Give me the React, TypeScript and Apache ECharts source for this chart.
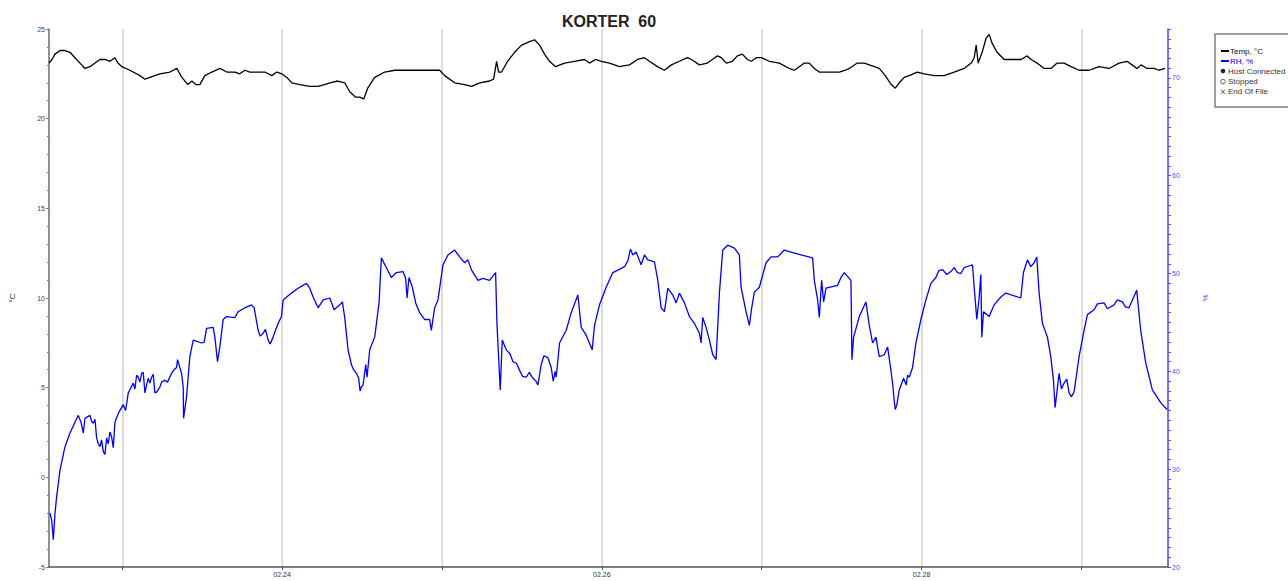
import React, { useEffect, useRef } from "react";
import * as echarts from "echarts";

const START = new Date(2024, 1, 22, 13, 0, 0).getTime();
const HOUR = 3600000;
const DAY = 24 * HOUR;
const SPAN_HOURS = 168;

const chartTitle = "KORTER  60";
const tempName = "Temp, °C";
const rhName = "RH, %";
const extraLegend = ["Host Connected", "Stopped", "End Of File"];

// [hours since start, °C]
const tempReadings: [number, number][] = [
  [0, 23.1], [0.45, 23.3], [0.9, 23.6], [1.65, 23.8], [2.4, 23.8], [3.15, 23.7], [3.9, 23.4], [4.65, 23.1],
  [5.4, 22.8], [6.15, 22.9], [6.9, 23.1], [7.65, 23.3], [8.4, 23.3], [9.15, 23.2], [9.9, 23.4], [10.35, 23.1],
  [10.95, 22.9], [12.15, 22.7], [13.65, 22.4], [14.4, 22.2], [15.15, 22.3], [16.65, 22.5], [18.15, 22.6],
  [19.2, 22.8], [19.95, 22.3], [20.85, 21.9], [21.45, 22.1], [22.05, 21.9], [22.65, 21.9], [23.4, 22.4],
  [24.45, 22.6], [25.65, 22.8], [26.7, 22.6], [27.9, 22.6], [28.65, 22.5], [29.4, 22.7], [30.15, 22.6],
  [31.35, 22.6], [32.4, 22.6], [33.45, 22.4], [34.2, 22.6], [34.95, 22.5], [35.7, 22.3], [36.45, 22.0],
  [37.65, 21.9], [39.15, 21.8], [40.35, 21.8], [41.4, 21.9], [42.15, 22.0], [43.35, 22.1], [44.4, 22.0],
  [45.15, 21.5], [46.05, 21.2], [46.65, 21.2], [47.25, 21.1], [47.85, 21.7], [48.9, 22.3], [50.4, 22.6],
  [51.9, 22.7], [54.15, 22.7], [56.4, 22.7], [57.9, 22.7], [58.65, 22.7], [59.4, 22.4], [60.9, 22.0],
  [62.4, 21.9], [63.45, 21.8], [64.65, 22.0], [66.15, 22.1], [66.75, 22.2], [67.2, 23.2], [67.5, 22.6],
  [67.95, 22.6], [68.85, 23.2], [69.9, 23.7], [70.95, 24.1], [72.15, 24.3], [72.9, 24.4], [73.65, 24.1],
  [74.4, 23.6], [75.15, 23.2], [76.05, 22.9], [77.4, 23.1], [78.9, 23.2], [80.4, 23.3], [81.15, 23.1],
  [82.05, 23.3], [82.95, 23.2], [84.15, 23.1], [85.65, 22.9], [87.15, 23.0], [88.35, 23.3], [89.4, 23.4],
  [90.15, 23.2], [91.35, 22.9], [92.4, 22.7], [93.45, 23.0], [94.65, 23.2], [95.85, 23.4], [96.45, 23.3],
  [97.65, 23.0], [98.85, 23.1], [99.6, 23.3], [100.35, 23.5], [100.95, 23.4], [101.7, 23.1], [102.6, 23.2],
  [103.35, 23.5], [104.1, 23.6], [104.85, 23.3], [105.45, 23.2], [106.2, 23.4], [106.95, 23.4], [108.15, 23.2],
  [109.65, 23.1], [111.15, 22.8], [111.9, 22.7], [112.65, 22.9], [113.4, 23.1], [114.15, 23.1], [114.9, 22.8],
  [115.65, 22.6], [117.15, 22.6], [118.65, 22.6], [119.55, 22.7], [120.15, 22.8], [121.35, 23.1], [122.4, 23.1],
  [123.9, 22.9], [124.65, 22.8], [125.55, 22.4], [126.45, 21.9], [127.05, 21.7], [127.65, 22.0], [128.4, 22.3],
  [129.15, 22.4], [130.35, 22.6], [131.4, 22.5], [132.9, 22.4], [134.4, 22.4], [135.9, 22.6], [137.4, 22.8],
  [138.45, 23.1], [138.9, 23.4], [139.2, 24.1], [139.5, 23.1], [140.1, 23.7], [140.7, 24.5], [141.15, 24.7],
  [141.6, 24.2], [142.35, 23.7], [143.4, 23.3], [144.9, 23.3], [145.95, 23.3], [146.85, 23.5], [147.45, 23.3],
  [148.35, 23.1], [149.4, 22.8], [150.45, 22.8], [151.35, 23.1], [152.4, 23.1], [153.45, 22.9], [154.65, 22.7],
  [156.15, 22.7], [157.65, 22.9], [159.15, 22.8], [160.65, 23.1], [161.85, 23.2], [162.6, 23.0], [163.35, 22.8],
  [163.95, 23.0], [164.85, 22.8], [165.9, 22.8], [166.65, 22.7], [167.55, 22.8],
];

// [hours since start, %RH]
const rhReadings: [number, number][] = [
  [0.15, 25.5], [0.4, 24.8], [0.65, 22.8], [0.9, 25.5], [1.15, 27.2], [1.65, 29.9], [2.4, 32.3], [3.15, 33.7],
  [3.9, 34.8], [4.4, 35.5], [4.8, 34.8], [5.15, 33.7], [5.4, 35.2], [6.15, 35.5], [6.4, 34.9], [6.65, 34.7],
  [6.9, 35.1], [7.15, 33.2], [7.4, 32.6], [7.65, 32.3], [7.9, 33.0], [8.15, 31.8], [8.4, 31.5], [8.65, 33.2],
  [8.9, 32.6], [9.15, 33.8], [9.4, 33.3], [9.65, 32.2], [9.9, 34.8], [10.4, 35.7], [11.15, 36.6], [11.5, 36.0],
  [11.9, 37.8], [12.2, 38.2], [12.65, 38.8], [12.9, 38.2], [13.15, 39.6], [13.4, 39.4], [13.65, 38.9],
  [13.9, 39.8], [14.15, 39.9], [14.4, 37.8], [14.65, 38.6], [14.9, 39.3], [15.15, 38.8], [15.4, 39.4],
  [15.65, 39.7], [15.9, 37.8], [16.2, 37.9], [16.65, 38.4], [16.9, 38.9], [17.4, 39.1], [17.8, 38.9],
  [18.4, 39.8], [18.8, 40.2], [19.15, 40.4], [19.3, 41.2], [19.9, 39.8], [20.15, 38.4], [20.2, 35.2],
  [20.65, 37.4], [21.15, 41.5], [21.65, 43.2], [22.9, 42.9], [23.3, 43.0], [23.65, 44.4], [24.65, 44.5],
  [24.9, 43.5], [25.3, 41.0], [25.65, 42.5], [26.15, 45.3], [26.65, 45.6], [27.9, 45.5], [28.4, 46.1],
  [29.4, 46.5], [30.4, 46.8], [30.8, 46.5], [31.4, 44.2], [31.7, 43.6], [32.15, 43.9], [32.5, 44.3],
  [32.9, 43.2], [33.2, 42.8], [33.65, 43.5], [34.0, 44.2], [34.4, 44.9], [34.9, 45.6], [35.15, 47.3],
  [36.4, 48.0], [37.4, 48.5], [38.65, 49.0], [39.15, 48.5], [39.65, 47.6], [40.4, 46.5], [41.15, 47.3],
  [42.15, 47.5], [42.8, 46.3], [43.65, 46.8], [44.05, 47.1], [44.4, 45.5], [44.9, 42.2], [45.4, 40.7],
  [45.7, 40.2], [46.15, 39.8], [46.5, 39.3], [46.7, 38.0], [46.9, 38.4], [47.15, 38.6], [47.55, 40.7],
  [47.75, 39.4], [48.15, 42.2], [48.9, 43.5], [49.55, 47.0], [49.9, 51.6], [50.65, 50.6], [51.4, 49.6],
  [52.15, 50.1], [53.15, 50.2], [53.55, 49.5], [53.75, 47.5], [54.05, 49.6], [54.55, 48.6], [55.05, 47.0],
  [55.65, 46.0], [56.4, 45.3], [57.15, 45.3], [57.4, 44.2], [57.9, 46.5], [58.4, 47.3], [59.15, 50.9],
  [59.9, 51.9], [60.9, 52.4], [61.65, 51.7], [62.4, 51.1], [62.9, 51.4], [63.4, 50.4], [64.4, 49.3],
  [65.15, 49.5], [66.15, 49.3], [67.05, 50.1], [67.25, 44.9], [67.5, 41.5], [67.75, 38.1], [68.05, 43.2],
  [68.65, 42.2], [69.2, 41.8], [69.65, 41.0], [70.2, 40.8], [70.65, 40.1], [71.1, 39.5], [71.65, 39.4],
  [72.1, 39.9], [72.65, 39.3], [73.1, 39.0], [73.4, 38.6], [73.9, 40.7], [74.3, 41.6], [74.9, 41.4],
  [75.4, 40.4], [75.7, 39.0], [76.0, 40.0], [76.15, 39.4], [76.65, 42.9], [77.65, 44.2], [78.4, 46.0],
  [79.4, 47.8], [79.9, 44.5], [80.65, 43.7], [81.55, 42.2], [81.9, 44.7], [82.65, 46.8], [83.65, 48.6],
  [84.65, 50.1], [85.55, 50.4], [86.4, 50.7], [86.9, 51.3], [87.3, 52.5], [87.65, 51.9], [88.15, 52.2],
  [88.9, 50.9], [89.4, 51.9], [89.9, 51.4], [90.9, 51.2], [91.4, 49.3], [91.9, 46.5], [92.4, 46.1],
  [92.9, 48.5], [93.65, 47.8], [94.15, 47.0], [94.65, 48.0], [95.4, 47.0], [96.15, 45.6], [96.9, 44.9],
  [97.65, 43.9], [97.9, 42.9], [98.15, 45.5], [98.65, 44.5], [99.15, 43.2], [99.65, 41.7], [100.15, 41.2],
  [100.65, 48.0], [101.15, 52.4], [101.9, 52.9], [102.9, 52.6], [103.65, 51.9], [103.9, 48.6], [104.65, 46.1],
  [105.15, 44.7], [105.5, 46.5], [105.9, 48.1], [106.65, 48.6], [107.65, 51.1], [108.4, 51.7], [109.4, 51.7],
  [110.4, 52.4], [111.4, 52.2], [112.9, 51.9], [114.65, 51.6], [114.9, 49.3], [115.4, 47.3], [115.65, 45.5],
  [116.0, 49.3], [116.3, 47.1], [116.65, 48.5], [118.4, 48.8], [118.9, 49.6], [119.4, 50.1], [120.4, 49.3],
  [120.55, 41.2], [120.8, 43.5], [121.65, 45.6], [122.65, 47.1], [123.15, 44.7], [123.65, 42.9], [124.15, 43.5],
  [124.65, 41.5], [125.4, 41.7], [125.9, 42.5], [126.4, 40.1], [126.7, 38.5], [126.85, 37.3], [127.05, 36.1],
  [127.3, 36.6], [127.65, 38.1], [128.3, 39.3], [128.7, 38.6], [128.9, 39.6], [129.15, 39.4], [129.65, 40.4],
  [130.15, 42.9], [130.9, 45.3], [131.65, 47.3], [132.4, 49.0], [133.15, 49.6], [133.6, 50.3], [134.15, 50.4],
  [134.8, 49.9], [135.4, 50.2], [135.9, 50.6], [136.4, 50.1], [136.9, 50.0], [137.4, 50.6], [138.65, 50.9],
  [138.9, 48.6], [139.3, 45.3], [139.65, 47.6], [139.9, 49.9], [140.05, 43.5], [140.3, 46.1], [141.15, 45.6],
  [141.9, 46.8], [142.9, 47.6], [143.65, 48.0], [145.9, 47.5], [146.3, 50.1], [146.9, 51.4], [147.4, 50.7],
  [147.9, 51.1], [148.3, 51.7], [148.65, 48.0], [149.15, 44.9], [149.9, 43.5], [150.4, 41.5], [150.8, 39.1],
  [151.05, 36.3], [151.65, 39.8], [152.0, 38.2], [152.4, 38.8], [152.8, 39.2], [153.15, 37.8], [153.5, 37.4],
  [153.9, 37.9], [154.65, 41.5], [155.4, 44.2], [155.9, 45.8], [156.9, 46.3], [157.4, 46.9], [158.4, 47.0],
  [158.9, 46.4], [159.9, 46.8], [160.4, 47.3], [161.15, 47.1], [161.6, 46.6], [162.15, 46.5], [163.3, 48.3],
  [163.9, 44.2], [164.65, 40.9], [165.65, 38.1], [166.9, 36.8], [167.85, 36.1],
];

const FONT = "Liberation Sans, Arial, sans-serif";
const BLUE = "#0000ff";
const AXIS_BLUE = "#5050ff";

const toSeries = (rows: [number, number][]) => rows.map(([h, v]) => [START + h * HOUR, v]);

const pad2 = (n: number) => (n < 10 ? "0" + n : "" + n);

export default function App() {
  const ref = useRef<HTMLDivElement>(null);

  useEffect(() => {
    if (!ref.current) return;
    const chart = echarts.init(ref.current, null, { renderer: "svg" });
    const legendFont = "8px " + FONT;
    const option: any = {
      animation: false,
      backgroundColor: "#ffffff",
      grid: { left: 49, right: 120, top: 29, bottom: 14, containLabel: false },
      graphic: [
        {
          type: "text",
          x: 609,
          y: 21,
          style: {
            text: chartTitle,
            font: "bold 16px " + FONT,
            fill: "#222",
            align: "center",
            verticalAlign: "middle",
          },
        },
        {
          type: "group",
          children: [
            {
              type: "rect",
              shape: { x: 1215, y: 34, width: 100, height: 73 },
              style: { fill: "#fff", stroke: "#808080", lineWidth: 1.5 },
            },
            { type: "line", shape: { x1: 1221, y1: 51, x2: 1229, y2: 51 }, style: { stroke: "#000", lineWidth: 2 } },
            {
              type: "text",
              x: 1230,
              y: 51,
              style: { text: tempName, font: legendFont, fill: "#111", verticalAlign: "middle" },
            },
            { type: "line", shape: { x1: 1221, y1: 61, x2: 1229, y2: 61 }, style: { stroke: BLUE, lineWidth: 2 } },
            {
              type: "text",
              x: 1230,
              y: 61,
              style: { text: rhName, font: legendFont, fill: BLUE, verticalAlign: "middle" },
            },
            { type: "circle", shape: { cx: 1223, cy: 71, r: 2.3 }, style: { fill: "#222" } },
            {
              type: "text",
              x: 1228,
              y: 71,
              style: { text: extraLegend[0], font: legendFont, fill: "#333", verticalAlign: "middle" },
            },
            {
              type: "circle",
              shape: { cx: 1223, cy: 81.5, r: 2.3 },
              style: { fill: "none", stroke: "#333", lineWidth: 0.8 },
            },
            {
              type: "text",
              x: 1228,
              y: 81.5,
              style: { text: extraLegend[1], font: legendFont, fill: "#333", verticalAlign: "middle" },
            },
            { type: "line", shape: { x1: 1221, y1: 89.7, x2: 1225, y2: 93.7 }, style: { stroke: "#333", lineWidth: 0.9 } },
            { type: "line", shape: { x1: 1221, y1: 93.7, x2: 1225, y2: 89.7 }, style: { stroke: "#333", lineWidth: 0.9 } },
            {
              type: "text",
              x: 1228,
              y: 91.7,
              style: { text: extraLegend[2], font: legendFont, fill: "#333", verticalAlign: "middle" },
            },
          ],
        },
      ],
      xAxis: {
        type: "time",
        min: START,
        max: START + SPAN_HOURS * HOUR,
        minInterval: DAY,
        maxInterval: DAY,
        axisLine: { show: true, onZero: false, lineStyle: { color: "#555", width: 1.5 } },
        axisTick: { show: true, length: 3, lineStyle: { color: "#555", width: 1 } },
        axisLabel: {
          fontSize: 7,
          fontFamily: FONT,
          color: "#333",
          margin: 4,
          hideOverlap: false,
          formatter: (value: number) => {
            const d = new Date(value);
            if (d.getHours() !== 0 || d.getMinutes() !== 0) return "";
            if (d.getDate() % 2 !== 0) return "";
            return pad2(d.getMonth() + 1) + "." + pad2(d.getDate());
          },
        },
        splitLine: { show: true, lineStyle: { color: "#dcdcdc", width: 2 } },
      },
      yAxis: [
        {
          type: "value",
          min: -5,
          max: 25,
          interval: 5,
          position: "left",
          name: "°C",
          nameLocation: "middle",
          nameGap: 33,
          nameRotate: 90,
          nameTextStyle: { fontSize: 8, fontFamily: FONT, color: "#333" },
          axisLine: { show: true, lineStyle: { color: "#777", width: 1.5 } },
          axisTick: { show: true, length: 3, lineStyle: { color: "#777" } },
          minorTick: { show: true, splitNumber: 5, length: 2, lineStyle: { color: "#777" } },
          axisLabel: { fontSize: 7, fontFamily: FONT, color: "#444", margin: 4 },
          splitLine: { show: false },
        },
        {
          type: "value",
          min: 20,
          max: 75,
          interval: 5,
          position: "right",
          name: "%",
          nameLocation: "middle",
          nameGap: 33,
          nameRotate: 90,
          nameTextStyle: { fontSize: 8, fontFamily: FONT, color: AXIS_BLUE },
          axisLine: { show: true, lineStyle: { color: AXIS_BLUE, width: 1.5 } },
          axisTick: { show: true, length: 3, lineStyle: { color: AXIS_BLUE } },
          minorTick: { show: true, splitNumber: 5, length: 3, lineStyle: { color: AXIS_BLUE } },
          axisLabel: {
            fontSize: 7,
            fontFamily: FONT,
            color: AXIS_BLUE,
            margin: 4,
            formatter: (v: number) => (v % 10 === 0 ? String(v) : ""),
          },
          splitLine: { show: false },
        },
      ],
      series: [
        {
          name: tempName,
          type: "line",
          yAxisIndex: 0,
          data: toSeries(tempReadings),
          showSymbol: false,
          symbol: "none",
          lineStyle: { color: "#000", width: 1.3 },
          z: 3,
        },
        {
          name: rhName,
          type: "line",
          yAxisIndex: 1,
          data: toSeries(rhReadings),
          showSymbol: false,
          symbol: "none",
          lineStyle: { color: BLUE, width: 1.3 },
          z: 2,
        },
      ],
    };
    chart.setOption(option);
    return () => chart.dispose();
  }, []);

  return (
    <div
      ref={ref}
      style={{ position: "absolute", left: 0, top: 0, width: 1288, height: 581, background: "#fff" }}
    />
  );
}
